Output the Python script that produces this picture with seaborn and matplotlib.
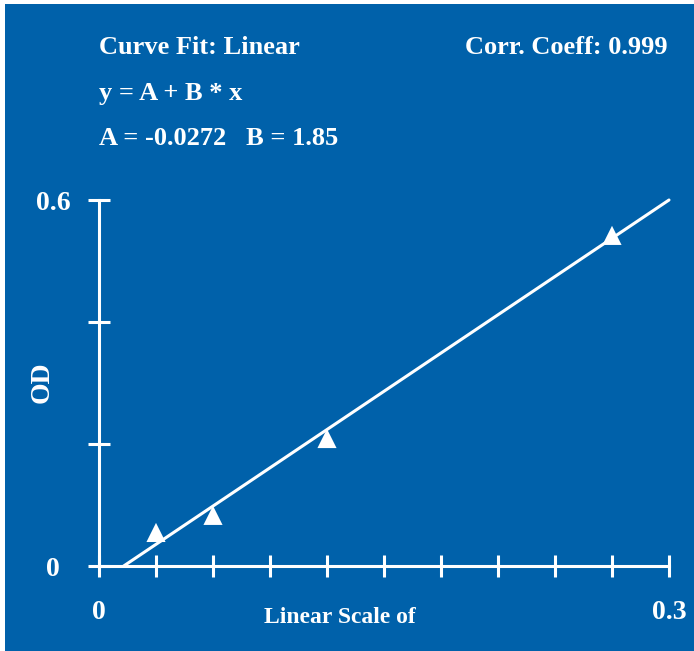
# od_curve_fit.py

import numpy as np
import pandas as pd
import matplotlib
matplotlib.use('Agg')
import matplotlib.pyplot as plt
import seaborn as sns
from matplotlib.patches import Rectangle

# standards
conc = [0.03, 0.06, 0.12, 0.27]
od = [0.055, 0.083, 0.209, 0.542]

# fitted line as drawn
fit_x = [0.013, 0.3]
fit_y = [0.0, 0.6]

x_ticks = [0.0, 0.03, 0.06, 0.09, 0.12, 0.15, 0.18, 0.21, 0.24, 0.27, 0.3]
x_tick_labels = ['0', '', '', '', '', '', '', '', '', '', '0.3']
y_ticks = [0.0, 0.2, 0.4, 0.6]
y_tick_labels = ['0', '', '', '0.6']

title_left = ['Curve Fit: Linear', 'y = A + B * x', 'A = -0.0272   B = 1.85']
title_right = 'Corr. Coeff: 0.999'

BLUE = '#0061AA'

sns.set_style('ticks')
plt.rcParams['font.family'] = ['Liberation Serif', 'DejaVu Serif']
plt.rcParams['font.weight'] = 'bold'

W, H = 694, 651
fig = plt.figure(figsize=(W / 100, H / 100), dpi=100, facecolor='white')
# blue panel, leaving a thin white strip at the top and left
fig.patches.append(Rectangle((5 / W, 0), 1 - 5 / W, 1 - 4 / H, transform=fig.transFigure,
                             facecolor=BLUE, edgecolor='none', zorder=-10))

ax = fig.add_axes([99 / W, 85 / H, 570 / W, 366 / H])
ax.set_facecolor('none')

df = pd.DataFrame({'conc': conc, 'od': od})
sns.lineplot(x=fit_x, y=fit_y, ax=ax, color='white', linewidth=2.2, clip_on=False)
sns.scatterplot(data=df, x='conc', y='od', ax=ax, marker='^', s=190,
                color='white', edgecolor='none', clip_on=False, zorder=3)

ax.set_xlim(0, 0.3)
ax.set_ylim(0, 0.6)
ax.set_xticks(x_ticks)
ax.set_xticklabels(x_tick_labels)
ax.set_yticks(y_ticks)
ax.set_yticklabels(y_tick_labels)

for side in ['top', 'right']:
    ax.spines[side].set_visible(False)
for side in ['left', 'bottom']:
    ax.spines[side].set_color('white')
    ax.spines[side].set_linewidth(2.2)

ax.tick_params(axis='both', direction='inout', length=16.5, width=2.2,
               color='white', labelcolor='white', labelsize=20)
ax.tick_params(axis='x', pad=16)
ax.tick_params(axis='y', pad=25)
for lab in ax.get_yticklabels():
    lab.set_horizontalalignment('center')

ax.set_xlabel('Linear Scale of', color='white', fontsize=17, fontweight='bold')
ax.xaxis.set_label_coords(0.423, -0.156)
ax.xaxis.label.set_verticalalignment('baseline')
ax.set_ylabel('OD', color='white', fontsize=20, fontweight='bold')
ax.yaxis.set_label_coords(-0.1, 0.503)
ax.yaxis.label.set_verticalalignment('center')

baselines = [54, 100, 145]
for txt, b in zip(title_left, baselines):
    fig.text(99 / W, 1 - b / H, txt, color='white', fontsize=19,
             fontweight='bold', va='baseline', ha='left')
fig.text(668 / W, 1 - 54 / H, title_right, color='white', fontsize=19,
         fontweight='bold', va='baseline', ha='right')

fig.savefig('out.png', dpi=100, facecolor=fig.get_facecolor())
